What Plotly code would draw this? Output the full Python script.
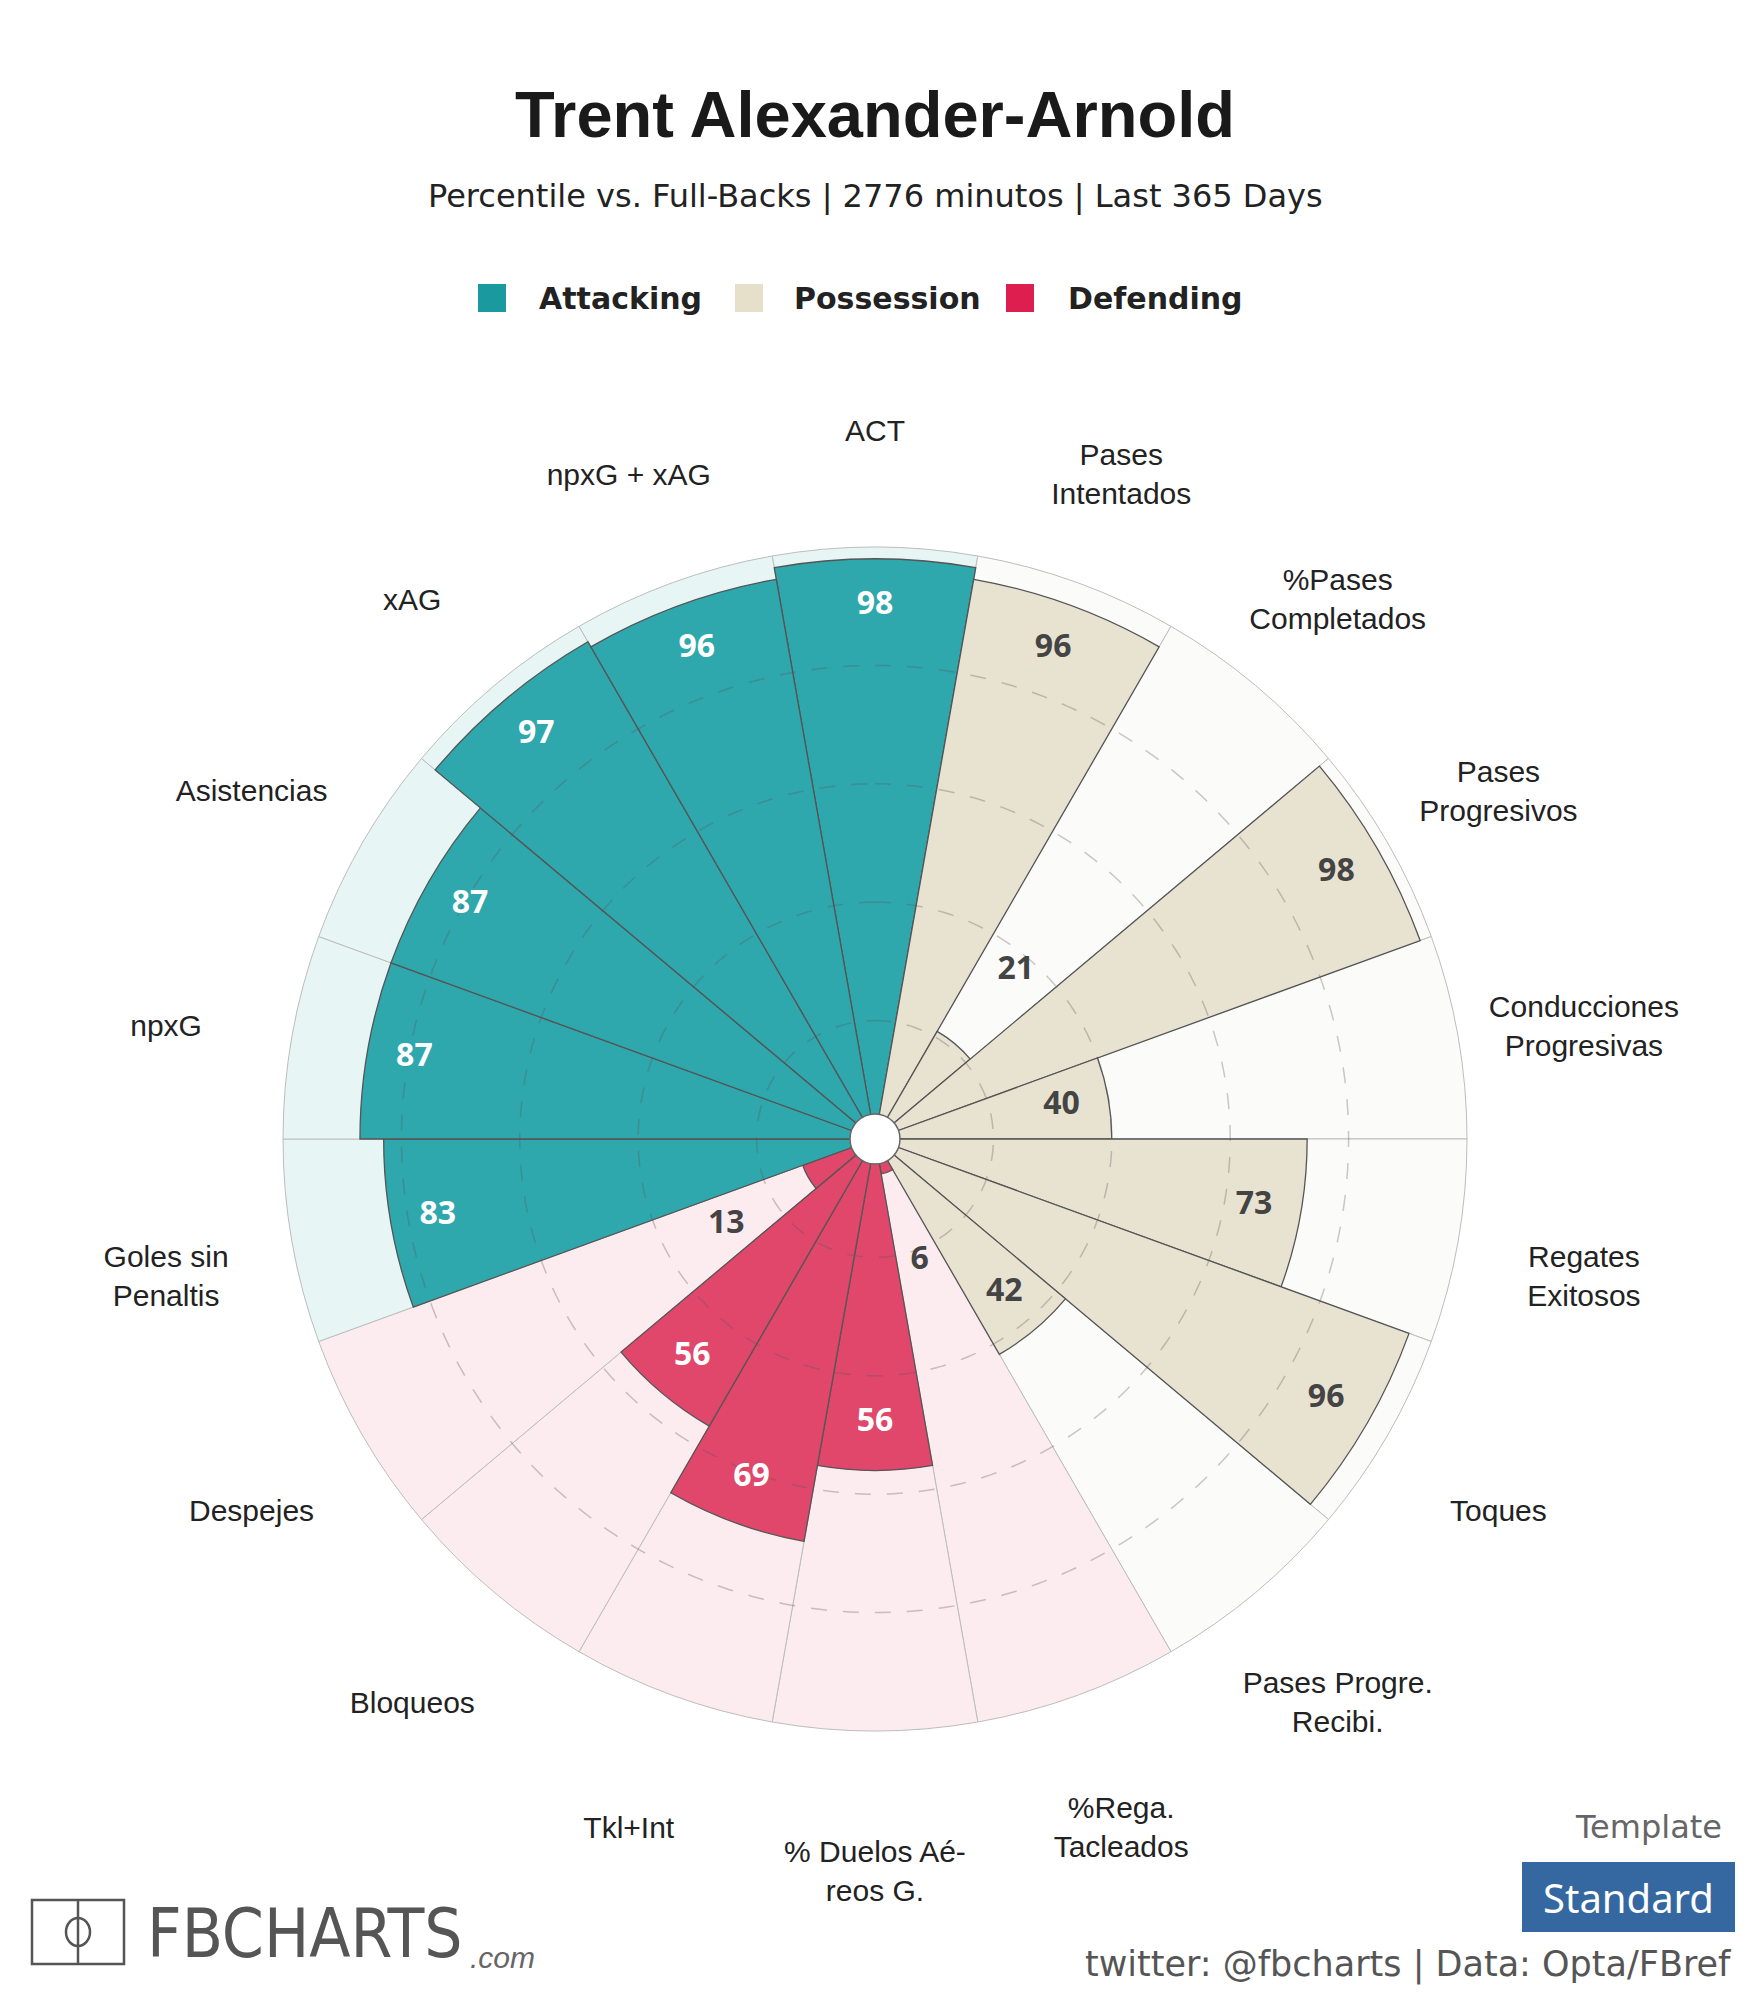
import math
import plotly.graph_objects as go

# ---------------- data ----------------
categories = [
    "ACT", "Pases<br>Intentados", "%Pases<br>Completados", "Pases<br>Progresivos",
    "Conducciones<br>Progresivas", "Regates<br>Exitosos", "Toques",
    "Pases Progre.<br>Recibi.", "%Rega.<br>Tacleados", "% Duelos Aé-<br>reos G.",
    "Tkl+Int", "Bloqueos", "Despejes", "Goles sin<br>Penaltis", "npxG",
    "Asistencias", "xAG", "npxG + xAG",
]
values = [98, 96, 21, 98, 40, 73, 96, 42, 6, 56, 69, 56, 13, 83, 87, 87, 97, 96]
groups = (["Attacking"] + ["Possession"] * 7 + ["Defending"] * 5 + ["Attacking"] * 5)
legend_names = ["Attacking", "Possession", "Defending"]
grid_levels = [20, 40, 60, 80]

title = "Trent Alexander-Arnold"
subtitle = "Percentile vs. Full-Backs | 2776 minutos | Last 365 Days"

# ---------------- style ----------------
bar_col = {"Attacking": "#2ea7ad", "Possession": "#e8e2d1", "Defending": "#e0476a"}
bg_col = {"Attacking": "#e7f5f5", "Possession": "#fbfbf9", "Defending": "#fcebef"}
leg_col = {"Attacking": "#1a9a9f", "Possession": "#e6dfca", "Defending": "#dc1f4e"}
lab_col = {"Attacking": "white", "Possession": "#444444", "Defending": "white"}

W, H = 1750, 2000
OFF = 8                     # page body margin
CX, CY = 875, 1139          # centre in screen px (from top-left)
R100 = 592                  # pixel radius of value 100
RMAX = 130                  # radial range max
Rdom = R100 * RMAX / 100
n = len(categories)
step = 360 / n
theta = [i * step for i in range(n)]


def px2x(x):
    return (x - OFF) / W


def px2y(y):
    return 1 - (y - OFF) / H


fig = go.Figure()

# background sectors
fig.add_trace(go.Barpolar(
    r=[100] * n, theta=theta, width=[step] * n,
    marker=dict(color=[bg_col[g] for g in groups], line=dict(color="#bdbdbd", width=1)),
    hoverinfo="skip", showlegend=False,
))
# value bars
fig.add_trace(go.Barpolar(
    r=values, theta=theta, width=[step] * n,
    marker=dict(color=[bar_col[g] for g in groups], line=dict(color="#555555", width=1.3)),
    showlegend=False,
))
# dashed grid circles on top
circ_theta = list(range(0, 361, 1))
for g in grid_levels:
    fig.add_trace(go.Scatterpolar(
        r=[g] * len(circ_theta), theta=circ_theta, mode="lines",
        line=dict(color="rgba(90,90,90,0.32)", width=1.5, dash="16px,16px"),
        hoverinfo="skip", showlegend=False,
    ))

# value labels
lab_r, lab_c = [], []
for v, g in zip(values, groups):
    if v >= 30:
        lab_r.append(v - 8)
        lab_c.append(lab_col[g])
    else:
        lab_r.append(v + 16)
        lab_c.append("#444444")
fig.add_trace(go.Scatterpolar(
    r=lab_r, theta=theta, mode="text", text=[str(v) for v in values],
    textfont=dict(family="Open Sans, Noto Sans, sans-serif", size=32, color=lab_c, weight="bold"),
    hoverinfo="skip", showlegend=False,
))

# centre hole
fig.add_trace(go.Scatterpolar(
    r=[0], theta=[0], mode="markers",
    marker=dict(size=50, color="white", line=dict(color="#666666", width=1.5)),
    hoverinfo="skip", showlegend=False,
))

# category labels (slightly shifted downward as in the original)
r0 = 121.6
s = 14.7 / R100 * 100
cat_r, cat_t = [], []
for t in theta:
    px = r0 * math.sin(math.radians(t))
    py = r0 * math.cos(math.radians(t)) - s
    cat_r.append(math.hypot(px, py))
    cat_t.append(math.degrees(math.atan2(px, py)) % 360)
fig.add_trace(go.Scatterpolar(
    r=cat_r, theta=cat_t, mode="text", text=categories,
    textfont=dict(family="Liberation Sans, Arial, sans-serif", size=30, color="#222222"),
    hoverinfo="skip", showlegend=False,
))

fig.update_layout(
    width=W, height=H, margin=dict(l=0, r=0, t=0, b=0),
    paper_bgcolor="white", plot_bgcolor="white",
    polar=dict(
        domain=dict(x=[px2x(CX - Rdom), px2x(CX + Rdom)],
                    y=[px2y(CY + Rdom), px2y(CY - Rdom)]),
        bgcolor="rgba(0,0,0,0)",
        barmode="overlay",
        radialaxis=dict(range=[0, RMAX], visible=False),
        angularaxis=dict(rotation=90, direction="clockwise", visible=False),
    ),
)

ann = []
shapes = []

ann.append(dict(text=title, x=px2x(875), y=px2y(115), xref="paper", yref="paper",
                showarrow=False, xanchor="center", yanchor="middle",
                font=dict(family="Liberation Sans, Arial, sans-serif", size=65, color="#1a1a1a", weight="bold")))
ann.append(dict(text=subtitle, x=px2x(875), y=px2y(196), xref="paper", yref="paper",
                showarrow=False, xanchor="center", yanchor="middle",
                font=dict(family="DejaVu Sans, sans-serif", size=32, color="#222222")))

# legend
leg_sq_x = [478, 735, 1006]
leg_tx_x = [537, 792, 1066]
for name, sx, tx in zip(legend_names, leg_sq_x, leg_tx_x):
    shapes.append(dict(type="rect", xref="paper", yref="paper",
                       x0=px2x(sx), x1=px2x(sx + 28), y0=px2y(284), y1=px2y(312),
                       fillcolor=leg_col[name], line=dict(width=0)))
    ann.append(dict(text=name, x=px2x(tx), y=px2y(298), xref="paper", yref="paper",
                    showarrow=False, xanchor="left", yanchor="middle",
                    font=dict(family="DejaVu Sans, sans-serif", size=30, color="#222222", weight="bold")))

# Template / Standard / credits
ann.append(dict(text="Template", x=px2x(1724), y=px2y(1827), xref="paper", yref="paper",
                showarrow=False, xanchor="right", yanchor="middle",
                font=dict(family="DejaVu Sans, sans-serif", size=32, color="#666666")))
shapes.append(dict(type="rect", xref="paper", yref="paper",
                   x0=px2x(1522), x1=px2x(1735), y0=px2y(1932), y1=px2y(1862),
                   fillcolor="#3568a0", line=dict(width=0)))
ann.append(dict(text="Standard", x=px2x(1628), y=px2y(1897), xref="paper", yref="paper",
                showarrow=False, xanchor="center", yanchor="middle",
                font=dict(family="Noto Sans, sans-serif", size=40, color="white")))
ann.append(dict(text="twitter: @fbcharts | Data: Opta/FBref", x=px2x(1733), y=px2y(1964),
                xref="paper", yref="paper", showarrow=False, xanchor="right", yanchor="middle",
                font=dict(family="DejaVu Sans, sans-serif", size=35, color="#555555")))

# FBCHARTS logo
shapes.append(dict(type="rect", xref="paper", yref="paper",
                   x0=px2x(32), x1=px2x(124), y0=px2y(1964), y1=px2y(1900),
                   line=dict(color="#555555", width=2.5)))
shapes.append(dict(type="line", xref="paper", yref="paper",
                   x0=px2x(78), x1=px2x(78), y0=px2y(1964), y1=px2y(1900),
                   line=dict(color="#555555", width=2.5)))
shapes.append(dict(type="circle", xref="paper", yref="paper",
                   x0=px2x(66), x1=px2x(90), y0=px2y(1946), y1=px2y(1918),
                   line=dict(color="#555555", width=2.5)))
ann.append(dict(text="FBCHARTS", x=px2x(145), y=px2y(1934), xref="paper", yref="paper",
                showarrow=False, xanchor="left", yanchor="middle",
                font=dict(family="Liberation Sans Narrow, DejaVu Sans Condensed, Arial Narrow, sans-serif",
                          size=67, color="#555555")))
ann.append(dict(text=".com", x=px2x(468), y=px2y(1957), xref="paper", yref="paper",
                showarrow=False, xanchor="left", yanchor="middle",
                font=dict(family="Liberation Sans, Arial, sans-serif", size=30, color="#666666", style="italic")))

fig.update_layout(annotations=ann, shapes=shapes)
fig.write_html("out.html")
